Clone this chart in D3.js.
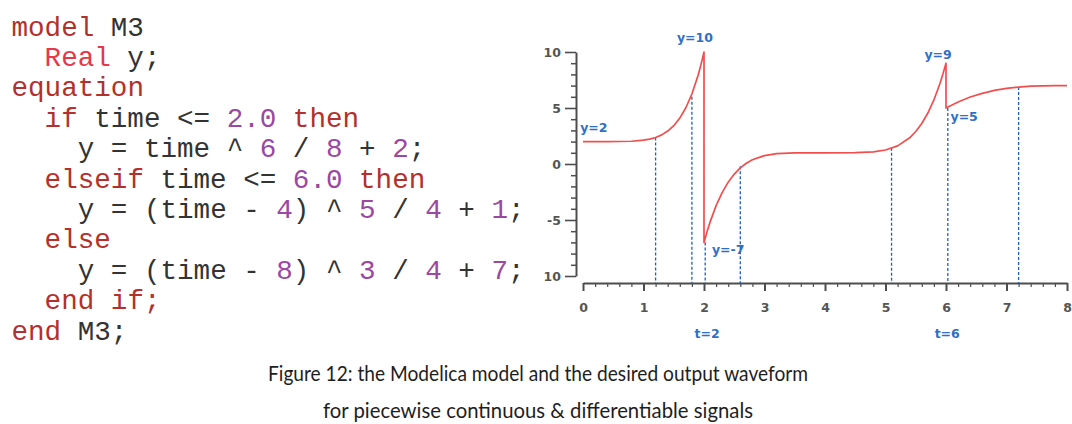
<!DOCTYPE html>
<html>
<head>
<meta charset="utf-8">
<script src="https://cdn.jsdelivr.net/npm/d3@7"></script>
<style>
  html, body { margin: 0; padding: 0; background: #fff; }
  svg { display: block; }
</style>
</head>
<body>
<svg id="fig" width="1072" height="424"></svg>
<script>
// ---------------- data ----------------
const codeLines = [
  [["model","kw"],[" M3","id"]],
  [["  Real","ty"],[" y;","id"]],
  [["equation","kw"]],
  [["  if","kw"],[" time <= ","id"],["2.0","num"],[" then","kw"]],
  [["    y = time ^ ","id"],["6","num"],[" / ","id"],["8","num"],[" + ","id"],["2","num"],[";","id"]],
  [["  elseif","kw"],[" time <= ","id"],["6.0","num"],[" then","kw"]],
  [["    y = (time - ","id"],["4","num"],[") ^ ","id"],["5","num"],[" / ","id"],["4","num"],[" + ","id"],["1","num"],[";","id"]],
  [["  else","kw"]],
  [["    y = (time - ","id"],["8","num"],[") ^ ","id"],["3","num"],[" / ","id"],["4","num"],[" + ","id"],["7","num"],[";","id"]],
  [["  end if;","kw"]],
  [["end","kw"],[" M3;","id"]]
];

// waveform (time, y)
const curveT = [0,0.2,0.4,0.6,0.8,1.0,1.1,1.2,1.3,1.4,1.5,1.6,1.7,1.8,1.9,1.95,2.0,
                2.0,2.05,2.1,2.2,2.3,2.4,2.5,2.6,2.7,2.8,3.0,3.2,3.5,4.0,4.5,4.8,5.0,5.2,5.4,5.5,5.6,5.7,5.8,5.9,5.95,6.0,
                6.0,6.2,6.4,6.6,6.8,7.0,7.2,7.4,7.6,7.8,8.0];
const curveY = [2,2,2,2.01,2.03,2.13,2.22,2.37,2.6,2.94,3.42,4.1,5.02,6.25,7.88,8.87,10,
                -7,-6.05,-5.19,-3.72,-2.55,-1.62,-0.9,-0.34,0.07,0.38,0.75,0.92,0.99,1,1.01,1.08,1.25,1.62,2.34,2.9,3.62,4.55,5.72,7.19,8.05,9,
                5,5.54,5.98,6.31,6.57,6.75,6.87,6.95,6.98,7,7];

// dashed sample lines
const markerT = [1.2, 1.8, 2.02, 2.6, 5.1, 6.03, 7.2];
const markerY = [2.37, 6.0, -7, -0.2, 1.45, 5, 6.87];

// annotations (data coordinates)
const annText = ["y=10","y=2","y=-7","y=9","y=5","t=2","t=6"];
const annT    = [1.85, 0.18, 2.4, 5.87, 6.3, 2.05, 6.02];
const annY    = [11.3, 3.3, -7.6, 9.8, 4.2, -15.1, -15.1];

const xTicks = [0,1,2,3,4,5,6,7,8];
const xTickLabels = ["0","1","2","3","4","5","6","7","8"];
const yTicks = [-10,-5,0,5,10];
const yTickLabels = ["10","-5","0","5","10"];

const captionLines = [
  "Figure 12: the Modelica model and the desired output waveform",
  "for piecewise continuous & differentiable signals"
];

// ---------------- drawing ----------------
const svg = d3.select("#fig");
svg.append("rect").attr("width",1072).attr("height",424).attr("fill","#fff");

// code panel
const codeColors = { kw: "#b4302c", ty: "#e8364a", id: "#333333", num: "#9a48a2" };
const charW = 16.55, codeX0 = 11.5, codeBase0 = 35.5, codeLH = 30.4;
const code = svg.append("g")
  .attr("font-family", "'Liberation Mono', 'Courier New', monospace")
  .attr("font-size", 27.6);
codeLines.forEach((tokens, i) => {
  const t = code.append("text").attr("y", codeBase0 + i * codeLH);
  let col = 0;
  tokens.forEach(([s, cls]) => {
    const lead = s.length - s.trimStart().length;
    const body = s.trim();
    if (body.length) {
      t.append("tspan")
        .attr("x", codeX0 + (col + lead) * charW)
        .attr("fill", codeColors[cls])
        .text(body);
    }
    col += s.length;
  });
});

// chart
const x = d3.scaleLinear().domain([0, 8]).range([583, 1067]);
const y = d3.scaleLinear().domain([-10, 10]).range([276, 52]);
const axisColor = "#4d4d4d";
const yAxisX = 576, xAxisY = 283;
const tickFont = g => g.selectAll("text")
  .attr("font-family", "'DejaVu Sans', sans-serif")
  .attr("font-weight", "bold").attr("font-size", 12.5).attr("fill", "#555");

// y axis minor
const yMinor = d3.range(-10, 10.001, 1).filter(v => v % 5 !== 0);
svg.append("g").attr("transform", `translate(${yAxisX},0)`)
  .call(d3.axisLeft(y).tickValues(yMinor).tickSize(5).tickSizeOuter(0).tickFormat(""))
  .call(g => g.select(".domain").remove())
  .call(g => g.selectAll("line").attr("stroke", axisColor).attr("stroke-width", 1.5));
// y axis major
svg.append("g").attr("transform", `translate(${yAxisX},0)`)
  .call(d3.axisLeft(y).tickValues(yTicks).tickSize(11).tickSizeOuter(0).tickPadding(4)
        .tickFormat((d, i) => yTickLabels[i]))
  .call(g => g.select(".domain").attr("stroke", axisColor).attr("stroke-width", 2))
  .call(g => g.selectAll("line").attr("stroke", axisColor).attr("stroke-width", 1.6))
  .call(tickFont);

// x axis minor
const xMinor = d3.range(0, 8.0001, 0.2).filter(v => Math.abs(v - Math.round(v)) > 1e-6);
svg.append("g").attr("transform", `translate(0,${xAxisY})`)
  .call(d3.axisBottom(x).tickValues(xMinor).tickSize(4).tickSizeOuter(0).tickFormat(""))
  .call(g => g.select(".domain").remove())
  .call(g => g.selectAll("line").attr("stroke", axisColor).attr("stroke-width", 1.2));
// x axis major
svg.append("g").attr("transform", `translate(0,${xAxisY})`)
  .call(d3.axisBottom(x).tickValues(xTicks).tickSize(8).tickSizeOuter(0)
        .tickFormat((d, i) => xTickLabels[i]))
  .call(g => g.select(".domain").attr("stroke", axisColor).attr("stroke-width", 2))
  .call(g => g.selectAll("line").attr("stroke", axisColor).attr("stroke-width", 2))
  .call(tickFont)
  .call(g => g.selectAll("text").attr("y", 29).attr("dy", 0));

// dashed lines
svg.append("g").selectAll("line").data(markerT).join("line")
  .attr("x1", d => x(d)).attr("x2", d => x(d))
  .attr("y1", (d, i) => y(markerY[i])).attr("y2", xAxisY)
  .attr("stroke", "#1f5fc0").attr("stroke-width", 1.3).attr("stroke-dasharray", "3,2");

// curve
const pts = curveT.map((t, i) => [t, curveY[i]]);
svg.append("path").datum(pts)
  .attr("d", d3.line().x(d => x(d[0])).y(d => y(d[1])))
  .attr("fill", "none").attr("stroke", "#f24e4e").attr("stroke-width", 1.7)
  .attr("stroke-linejoin", "round");

// annotations
svg.append("g").selectAll("text").data(annText).join("text")
  .attr("x", (d, i) => x(annT[i])).attr("y", (d, i) => y(annY[i]))
  .attr("text-anchor", "middle").attr("dominant-baseline", "central")
  .attr("font-family", "'DejaVu Sans', sans-serif").attr("font-weight", "bold")
  .attr("font-size", 12.5).attr("fill", "#2f6fc6")
  .text(d => d);

// caption
const capW = [540, 430];
svg.append("g").selectAll("text").data(captionLines).join("text")
  .attr("x", 538).attr("y", (d, i) => 381 + i * 37)
  .attr("text-anchor", "middle")
  .attr("font-family", "Lato, 'Open Sans', sans-serif").attr("font-size", 22)
  .attr("fill", "#1e1e1e")
  .attr("textLength", (d, i) => capW[i]).attr("lengthAdjust", "spacingAndGlyphs")
  .text(d => d);
</script>
</body>
</html>
